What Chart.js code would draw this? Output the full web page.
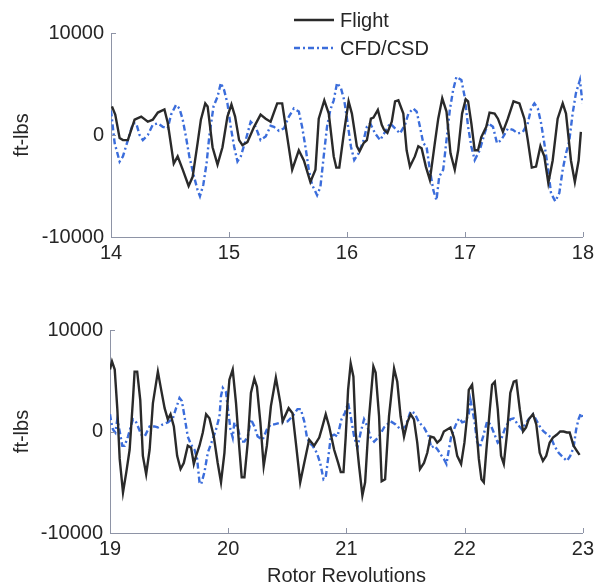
<!DOCTYPE html>
<html>
<head>
<meta charset="utf-8">
<script src="https://cdn.jsdelivr.net/npm/chart.js@4.4.1/dist/chart.umd.min.js"></script>
<style>
  html, body { margin: 0; padding: 0; background: #fff; }
  body { width: 598px; height: 588px; position: relative; overflow: hidden; }
  .panel { position: absolute; left: 0; width: 598px; }
  #topPanel { top: 0; height: 270px; }
  #bottomPanel { top: 290px; height: 298px; }
</style>
</head>
<body>
<div class="panel" id="topPanel"><canvas id="topChart" width="598" height="270"></canvas></div>
<div class="panel" id="bottomPanel"><canvas id="bottomChart" width="598" height="298"></canvas></div>
<script>
// revolutions 14-18
const flightTopRev = [14.008,14.036,14.073,14.101,14.143,14.200,14.256,14.312,14.354,14.397,14.453,14.481,14.532,14.565,14.608,14.658,14.692,14.734,14.762,14.799,14.819,14.861,14.903,14.945,14.987,15.021,15.052,15.086,15.114,15.156,15.213,15.268,15.311,15.353,15.409,15.451,15.536,15.592,15.635,15.690,15.733,15.761,15.808,15.846,15.888,15.910,15.935,15.973,16.014,16.042,16.084,16.107,16.141,16.169,16.203,16.225,16.262,16.295,16.315,16.343,16.380,16.408,16.436,16.478,16.506,16.534,16.576,16.605,16.633,16.669,16.703,16.745,16.774,16.808,16.844,16.878,16.914,16.943,16.976,17.007,17.027,17.055,17.083,17.111,17.139,17.181,17.209,17.252,17.280,17.322,17.364,17.412,17.462,17.504,17.533,17.567,17.603,17.640,17.673,17.707,17.744,17.786,17.829,17.857,17.899,17.932,17.964,17.983];
const flightTopVal = [2800,2000,-300,-500,-500,1500,1800,1300,1500,2200,2500,1200,-2800,-2100,-3400,-5000,-4100,-800,1500,3100,2800,-1200,-2900,-1200,1800,3000,1800,-500,-1000,-700,800,2000,1600,1300,3100,3100,-3400,-1500,-2500,-4600,-3400,1600,3400,2100,-2100,-3200,-3200,100,3300,2100,-1100,-1600,-800,-500,1600,1700,2450,1000,500,200,1300,3300,3400,2100,-1500,-3100,-2100,-1100,-1300,-3100,-4400,-800,1600,3600,2300,-1800,-3400,-1500,2100,3500,3300,1100,-1500,-1500,-200,800,2200,2100,1600,300,1600,3300,3100,1600,-500,-3200,-3100,-1100,-2100,-4700,-2500,1600,3100,2100,-2500,-4600,-2500,300];

const cfdTopRev = [14.000,14.031,14.073,14.101,14.143,14.186,14.214,14.242,14.270,14.312,14.354,14.397,14.439,14.481,14.509,14.551,14.580,14.608,14.635,14.664,14.700,14.734,14.754,14.782,14.810,14.833,14.869,14.903,14.931,14.959,14.987,15.015,15.044,15.072,15.100,15.142,15.184,15.226,15.268,15.311,15.353,15.381,15.424,15.466,15.508,15.550,15.592,15.620,15.648,15.677,15.705,15.747,15.775,15.803,15.831,15.859,15.888,15.916,15.949,15.977,16.006,16.034,16.062,16.099,16.141,16.169,16.197,16.239,16.281,16.323,16.365,16.408,16.450,16.492,16.521,16.563,16.591,16.619,16.647,16.675,16.703,16.732,16.759,16.782,16.816,16.844,16.872,16.900,16.928,16.970,16.998,17.027,17.055,17.083,17.125,17.167,17.196,17.238,17.272,17.308,17.365,17.407,17.449,17.491,17.533,17.561,17.589,17.618,17.646,17.673,17.702,17.730,17.766,17.800,17.829,17.857,17.884,17.913,17.941,17.975,17.997];
const cfdTopVal = [2400,-800,-2600,-2100,-500,1150,1150,0,-500,0,1000,1150,800,650,2000,2950,2600,1500,-150,-2100,-3900,-5400,-6000,-4900,-2800,-150,2800,3750,5100,4400,3100,800,-1150,-2600,-2100,-500,1300,800,-500,-150,900,800,400,650,1800,2600,2300,800,-1150,-3400,-4900,-5900,-5100,-2100,800,2450,3400,5100,4600,3400,1150,-1150,-2450,-1800,-500,800,1150,150,-500,300,1150,650,150,1000,2100,2600,2300,800,-800,-1150,-3400,-5400,-6400,-4100,-3400,-500,2450,4400,5700,5400,3750,800,-1150,-2450,-1500,150,1150,800,-800,-500,650,500,150,300,1150,2600,3100,2600,1150,-800,-3100,-5700,-6500,-5700,-3400,-1800,-650,2100,4100,5400,3100];

// revolutions 19-23
const flightBotRev = [19.000,19.017,19.040,19.062,19.082,19.110,19.138,19.166,19.194,19.208,19.230,19.256,19.278,19.306,19.335,19.363,19.405,19.433,19.462,19.489,19.512,19.540,19.568,19.597,19.624,19.658,19.686,19.709,19.728,19.757,19.785,19.813,19.841,19.878,19.911,19.939,19.968,19.996,20.010,20.038,20.066,20.095,20.114,20.137,20.165,20.192,20.221,20.243,20.272,20.300,20.327,20.361,20.403,20.441,20.460,20.511,20.544,20.572,20.609,20.643,20.685,20.727,20.770,20.797,20.825,20.854,20.896,20.930,20.952,20.975,20.994,21.014,21.036,21.059,21.078,21.107,21.135,21.158,21.192,21.228,21.247,21.276,21.298,21.327,21.360,21.403,21.430,21.458,21.487,21.515,21.543,21.571,21.599,21.622,21.656,21.684,21.711,21.740,21.768,21.796,21.824,21.880,21.909,21.937,21.970,21.998,22.021,22.035,22.063,22.091,22.120,22.142,22.162,22.184,22.213,22.232,22.255,22.280,22.308,22.331,22.359,22.386,22.415,22.437,22.466,22.494,22.519,22.542,22.578,22.606,22.635,22.662,22.690,22.719,22.747,22.781,22.808,22.837,22.865,22.888,22.921,22.949,22.972];
const flightBotVal = [6100,6900,6100,2200,-2700,-6000,-4000,-1800,3100,5900,5900,3100,-2400,-4200,-1800,2800,5900,4100,2300,1200,1700,500,-2400,-3700,-3100,-1400,-1600,-3200,-2400,-1400,-100,1700,1300,-500,-3100,-5000,-2100,3100,5100,6100,2800,-1800,-4500,-4500,-1100,3800,5200,4400,900,-3400,-1400,2500,5300,2800,1000,2300,1800,-1100,-5000,-3100,-800,-1400,-600,500,1700,500,-1800,-3100,-4000,-4000,-500,4100,6700,5400,-100,-3400,-6300,-5000,1500,6400,5800,1500,-4900,-4700,1500,6200,4900,1500,-500,900,1700,1200,-1100,-3700,-3100,-2100,-500,-600,-1100,-800,0,400,-600,-2400,-3200,-1100,1500,4100,4600,1500,-2700,-4700,-5000,-1800,2200,4600,4900,2200,-2400,-3200,-100,3800,4900,5000,2200,0,400,1200,1700,700,-2100,-2900,-2400,-1100,-600,-300,0,0,-100,-100,-1400,-1900,-2300];

const cfdBotRev = [19.000,19.011,19.025,19.045,19.062,19.082,19.104,19.124,19.152,19.194,19.222,19.264,19.293,19.335,19.377,19.405,19.447,19.489,19.532,19.559,19.588,19.608,19.630,19.658,19.686,19.715,19.737,19.757,19.771,19.799,19.827,19.861,19.897,19.926,19.939,19.954,19.981,20.002,20.019,20.038,20.052,20.080,20.108,20.137,20.165,20.192,20.221,20.249,20.291,20.327,20.361,20.390,20.446,20.502,20.544,20.586,20.614,20.643,20.665,20.685,20.713,20.749,20.778,20.806,20.825,20.848,20.868,20.896,20.924,20.958,20.986,21.014,21.036,21.065,21.093,21.120,21.149,21.177,21.205,21.234,21.276,21.318,21.374,21.416,21.458,21.500,21.543,21.576,21.614,21.656,21.698,21.717,21.745,21.772,21.800,21.824,21.846,21.866,21.886,21.909,21.937,21.956,21.979,22.007,22.035,22.049,22.063,22.083,22.105,22.128,22.156,22.190,22.218,22.246,22.280,22.308,22.344,22.386,22.415,22.449,22.485,22.527,22.578,22.612,22.640,22.668,22.702,22.730,22.758,22.795,22.837,22.865,22.893,22.921,22.943,22.963,22.983,23.000];
const cfdBotVal = [1700,900,200,-100,1200,0,-1400,-1400,-500,1200,900,-300,-500,500,500,400,700,900,1300,2300,3300,3000,1500,-500,-1300,-1800,-2700,-5000,-5200,-4000,-2100,-1000,200,1500,3500,4300,3900,1800,200,-600,900,400,-1000,-1000,-500,1200,500,-500,-800,200,700,700,900,1000,1500,2200,2200,1000,-500,-1100,-1400,-2100,-3100,-4700,-4500,-2400,-500,-300,-500,1200,1800,2800,1500,-500,-1600,-100,1200,500,-600,-1000,-500,400,1000,700,200,500,2000,1800,900,400,-500,-1600,-1400,-1800,-2300,-2700,-3200,-1800,-500,200,1000,1300,900,1000,1700,3100,2300,1000,-1000,-1600,-500,1000,700,-100,-1100,-800,400,1200,1300,700,200,1000,1700,1000,400,0,-300,-600,-1400,-2100,-2600,-2900,-2400,-1600,200,1200,1800,1300];

const seriesNames = ["Flight", "CFD/CSD"];
const yTitle = "ft-lbs";
const xTitle = "Rotor Revolutions";

const fontFamily = '"Liberation Sans", Arial, Helvetica, sans-serif';
const textColor = "#262626";
const axisColor = "#8e94a6";
const flightColor = "#2a2a2a";
const cfdColor = "#3b6ddb";

function zip(xs, ys) {
  return xs.map((x, i) => ({ x: x, y: ys[i] }));
}

// small tick marks pointing into the plot, like the original figure
const innerTicks = {
  id: "innerTicks",
  afterDraw(chart) {
    const { ctx, chartArea: a, scales } = chart;
    ctx.save();
    ctx.strokeStyle = axisColor;
    ctx.lineWidth = 1;
    ctx.beginPath();
    for (const t of scales.x.ticks) {
      const px = Math.round(scales.x.getPixelForValue(t.value)) + 0.5;
      ctx.moveTo(px, a.bottom);
      ctx.lineTo(px, a.bottom - 5);
    }
    for (const t of scales.y.ticks) {
      const py = Math.round(scales.y.getPixelForValue(t.value)) + 0.5;
      ctx.moveTo(a.left, py);
      ctx.lineTo(a.left + 5, py);
    }
    ctx.stroke();
    ctx.restore();
  }
};

const legendBox = {
  id: "legendBox",
  afterDraw(chart, args, opts) {
    if (!opts.show) return;
    const ctx = chart.ctx;
    chart.data.datasets.forEach((ds, i) => {
      const yy = opts.rows[i];
      ctx.save();
      ctx.strokeStyle = ds.borderColor;
      ctx.lineWidth = ds.borderWidth;
      ctx.setLineDash(ds.borderDash || []);
      ctx.beginPath();
      ctx.moveTo(opts.x0, yy);
      ctx.lineTo(opts.x1, yy);
      ctx.stroke();
      ctx.setLineDash([]);
      ctx.fillStyle = textColor;
      ctx.font = "20px " + fontFamily;
      ctx.textBaseline = "middle";
      ctx.textAlign = "left";
      ctx.fillText(ds.label, opts.x1 + 6, yy + 1);
      ctx.restore();
    });
  }
};

function buildPanel(id, xMin, xMax, fx, fy, cx, cy, cfg) {
  return new Chart(document.getElementById(id), {
    type: "line",
    data: {
      datasets: [
        {
          label: seriesNames[0],
          data: zip(fx, fy),
          borderColor: flightColor,
          borderWidth: 2.4,
          pointRadius: 0,
          tension: 0,
          fill: false
        },
        {
          label: seriesNames[1],
          data: zip(cx, cy),
          borderColor: cfdColor,
          borderWidth: 2.4,
          borderDash: [6, 3, 2, 3],
          pointRadius: 0,
          tension: 0,
          fill: false
        }
      ]
    },
    options: {
      responsive: false,
      animation: false,
      devicePixelRatio: 1,
      layout: { padding: { top: cfg.padTop, right: cfg.padRight, left: 0, bottom: 0 } },
      plugins: {
        legend: { display: false },
        tooltip: { enabled: false },
        legendBox: cfg.legend
      },
      scales: {
        x: {
          type: "linear",
          min: xMin,
          max: xMax,
          afterFit: (s) => { s.height = cfg.xHeight; },
          afterBuildTicks: (s) => {
            s.ticks = [];
            for (let v = xMin; v <= xMax; v++) s.ticks.push({ value: v });
          },
          grid: { display: true, drawOnChartArea: false, drawTicks: false },
          border: { display: true, color: axisColor, width: 1 },
          ticks: {
            color: textColor,
            font: { family: fontFamily, size: 20 },
            padding: 4,
            maxRotation: 0,
            autoSkip: false
          },
          title: {
            display: cfg.showXTitle,
            text: xTitle,
            color: textColor,
            font: { family: fontFamily, size: 20 },
            padding: { top: 0, bottom: 0 }
          }
        },
        y: {
          min: -10000,
          max: 10000,
          afterFit: (s) => { s.width = cfg.yWidth; },
          afterBuildTicks: (s) => {
            s.ticks = [{ value: -10000 }, { value: 0 }, { value: 10000 }];
          },
          grid: { display: true, drawOnChartArea: false, drawTicks: false },
          border: { display: true, color: axisColor, width: 1 },
          ticks: {
            color: textColor,
            font: { family: fontFamily, size: 20 },
            padding: 7,
            callback: (v) => String(v)
          },
          title: {
            display: true,
            text: yTitle,
            color: textColor,
            font: { family: fontFamily, size: 20 },
            padding: { top: 10, bottom: 0 }
          }
        }
      }
    },
    plugins: [innerTicks, legendBox]
  });
}

buildPanel("topChart", 14, 18, flightTopRev, flightTopVal, cfdTopRev, cfdTopVal, {
  padTop: 33, padRight: 13, xHeight: 33, yWidth: 111, showXTitle: false,
  legend: { show: true, x0: 294, x1: 334, rows: [20, 48] }
});

buildPanel("bottomChart", 19, 23, flightBotRev, flightBotVal, cfdBotRev, cfdBotVal, {
  padTop: 40, padRight: 14, xHeight: 55, yWidth: 110, showXTitle: true,
  legend: { show: false }
});
</script>
</body>
</html>
